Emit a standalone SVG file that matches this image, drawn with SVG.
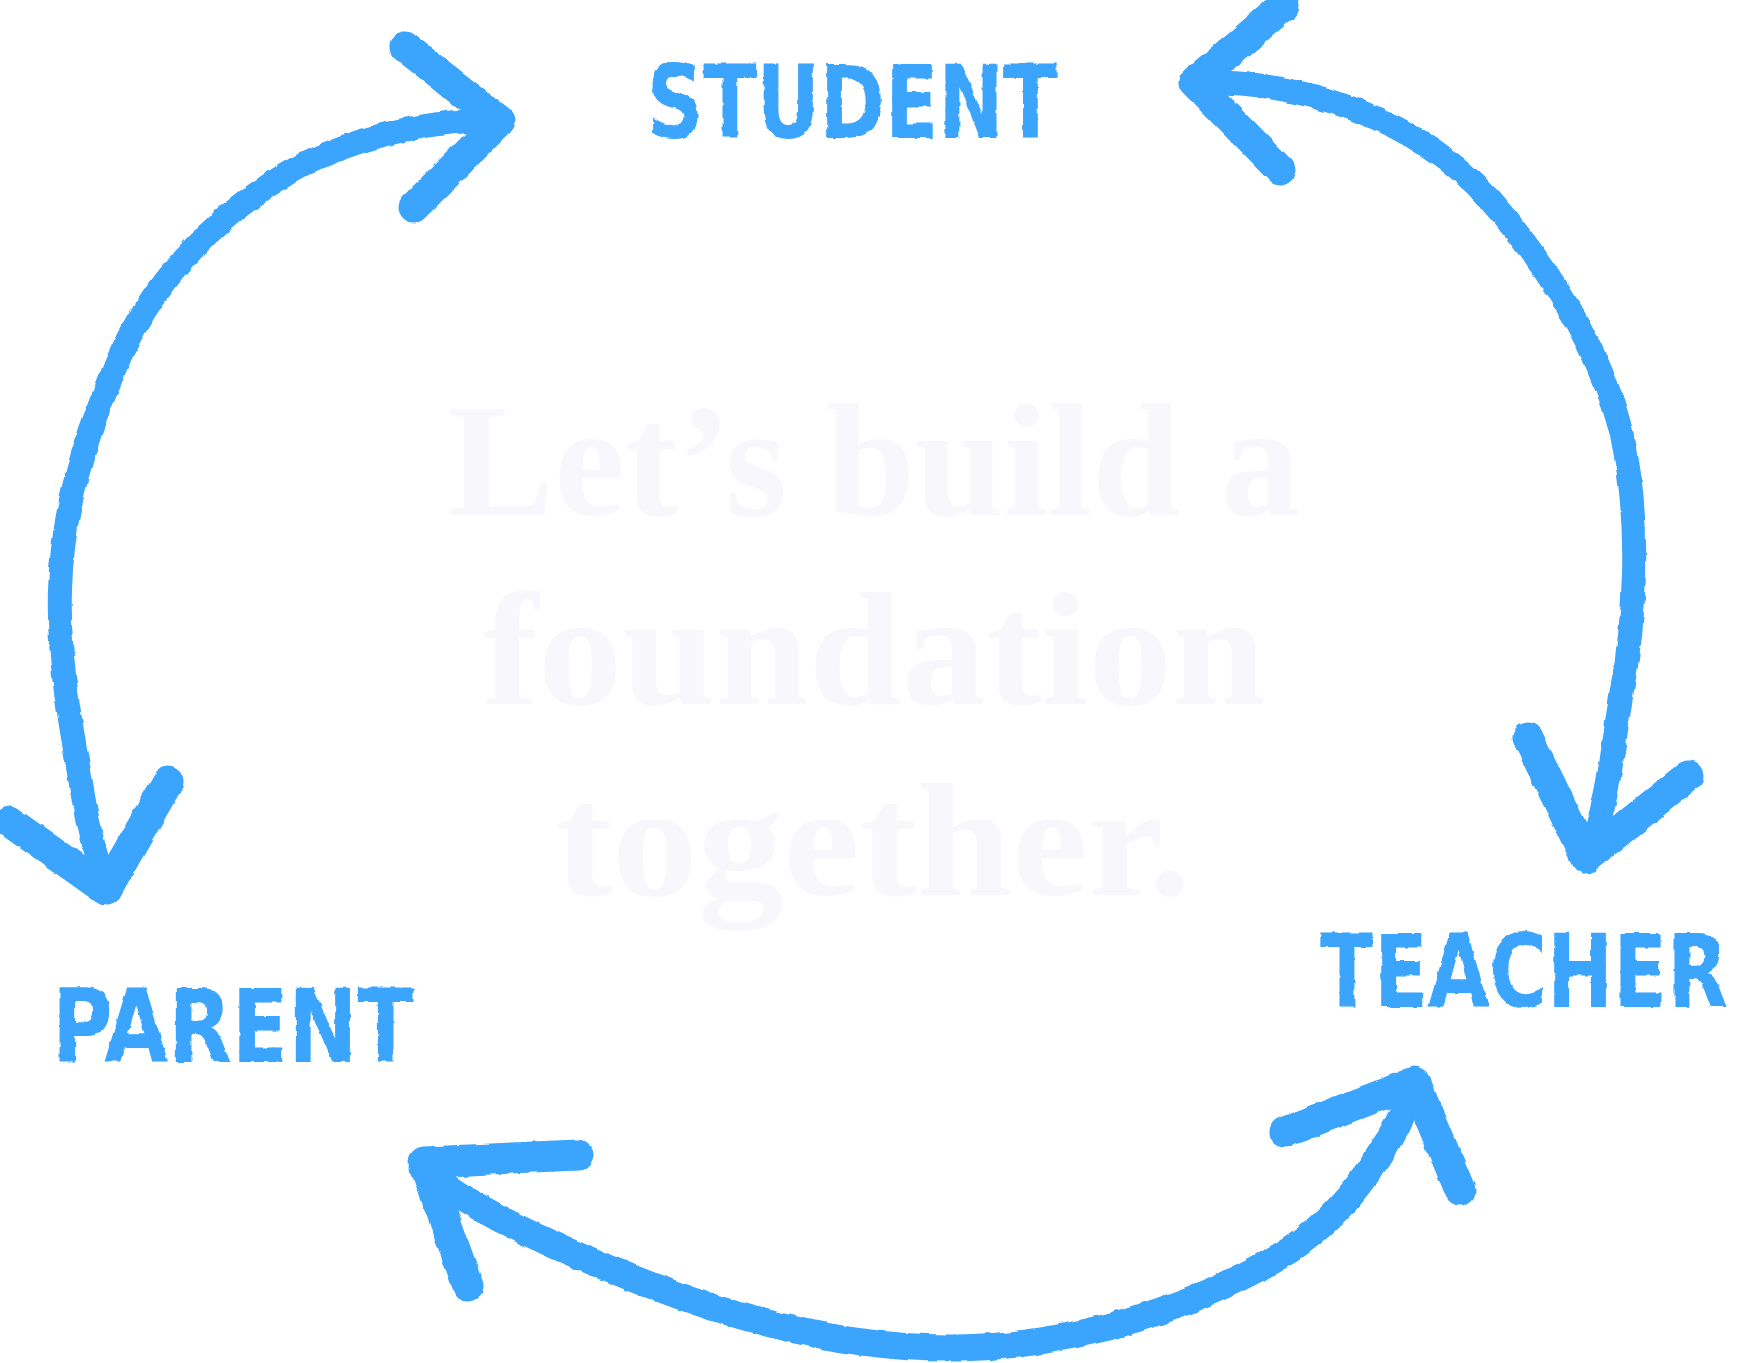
<svg xmlns="http://www.w3.org/2000/svg" width="1747" height="1363" viewBox="0 0 1747 1363">
  <defs>
    <filter id="rough" filterUnits="userSpaceOnUse" x="0" y="0" width="1747" height="1363">
      <feTurbulence type="fractalNoise" baseFrequency="0.07" numOctaves="2" seed="3" result="n"/>
      <feDisplacementMap in="SourceGraphic" in2="n" scale="4.5" xChannelSelector="R" yChannelSelector="G"/>
    </filter>
    <filter id="roughText" filterUnits="userSpaceOnUse" x="-200" y="-200" width="2147" height="1763">
      <feTurbulence type="fractalNoise" baseFrequency="0.1" numOctaves="2" seed="7" result="n"/>
      <feDisplacementMap in="SourceGraphic" in2="n" scale="3.5" xChannelSelector="R" yChannelSelector="G"/>
    </filter>
  </defs>
  <style>
    .shaft { fill: none; stroke: #3AA4FC; stroke-width: 24; stroke-linecap: round; stroke-linejoin: round; }
    .shaft-b { fill: none; stroke: #3AA4FC; stroke-width: 27; stroke-linecap: round; stroke-linejoin: round; }
    .head { fill: none; stroke: #3AA4FC; stroke-width: 31; stroke-linecap: round; stroke-linejoin: round; }
    .label { font-family: "DejaVu Sans Condensed", "DejaVu Sans", sans-serif; font-weight: bold; font-size: 102px; fill: #3AA4FC; }
    .tagline { font-family: "Liberation Serif", "DejaVu Serif", serif; font-weight: bold; font-size: 160px; fill: #F8F7FC; text-anchor: middle; }
  </style>
  <rect width="1747" height="1363" fill="#FFFFFF"/>

  <g id="tagline">
    <text class="tagline" x="874" y="515" textLength="852" lengthAdjust="spacingAndGlyphs">Let’s build a</text>
    <text class="tagline" x="874" y="704" textLength="783" lengthAdjust="spacingAndGlyphs">foundation</text>
    <text class="tagline" x="873" y="895" textLength="636" lengthAdjust="spacingAndGlyphs">together.</text>
  </g>

  <g id="connectors" filter="url(#rough)">
    <g id="arrow-student-parent">
      <path class="shaft" d="M 500 121 C 430 118, 340 140, 280 178 C 200 228, 140 300, 110 380 C 85 440, 62 510, 60 590 C 58 660, 70 720, 82 790 C 90 840, 100 870, 108 893"/>
      <path class="head" d="M 405 47 L 500 121 L 414 207"/>
      <path class="head" d="M 10 822 L 106 890 L 168 782"/>
    </g>
    <g id="arrow-student-teacher">
      <path class="shaft" d="M 1192 83 C 1300 78, 1420 120, 1490 200 C 1560 280, 1610 370, 1625 450 C 1640 530, 1635 620, 1622 690 C 1612 750, 1610 800, 1586 860"/>
      <path class="head" d="M 1284 6 L 1194 82 L 1280 170"/>
      <path class="head" d="M 1528 738 L 1586 858 L 1688 776"/>
    </g>
    <g id="arrow-parent-teacher">
      <path class="shaft-b" d="M 422 1168 C 470 1210, 560 1250, 650 1285 C 740 1320, 850 1350, 960 1348 C 1080 1346, 1200 1305, 1290 1250 C 1350 1210, 1395 1140, 1415 1082"/>
      <path class="head" d="M 578 1155 L 424 1162 L 468 1286"/>
      <path class="head" d="M 1285 1132 L 1415 1082 L 1460 1190"/>
    </g>
  </g>

  <g id="node-student" filter="url(#roughText)">
    <text class="label" x="647" y="138" textLength="410" lengthAdjust="spacingAndGlyphs">STUDENT</text>
  </g>
  <g id="node-teacher" filter="url(#roughText)">
    <text class="label" transform="translate(1320,1007) scale(1,1.275)" x="0" y="0" style="font-size:80px" textLength="408" lengthAdjust="spacingAndGlyphs">TEACHER</text>
  </g>
  <g id="node-parent" filter="url(#roughText)">
    <text class="label" x="52" y="1062" textLength="362" lengthAdjust="spacingAndGlyphs">PARENT</text>
  </g>
</svg>
